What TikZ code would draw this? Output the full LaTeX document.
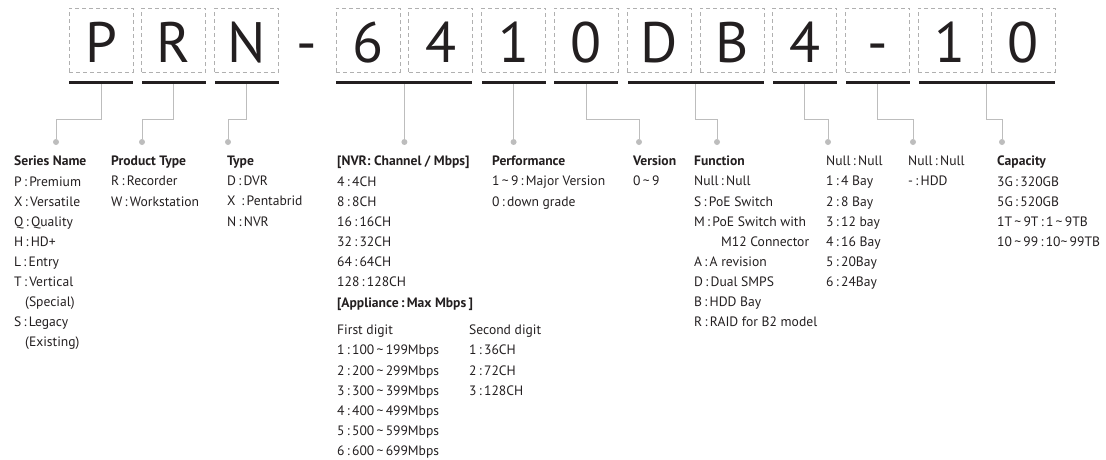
\documentclass[tikz,border=0pt]{standalone}
\usepackage{fontspec}
\setmainfont{PT Sans}
\usetikzlibrary{positioning,calc}
\definecolor{boxgray}{HTML}{B0B0B0}
\definecolor{linkgray}{HTML}{BDBDBD}
\definecolor{inkblack}{HTML}{231F20}
\newcommand{\tld}{\textasciitilde}

\begin{document}
\begin{tikzpicture}[
  x=1pt, y=-1pt,
  node distance=8pt,
  digit/.style={draw=boxgray, line width=0.8pt, dash pattern=on 4pt off 3pt,
                minimum width=64pt, text height=54pt, text depth=10pt, inner sep=0pt,
                font=\fontsize{57}{57}\selectfont, text=inkblack},
  bar/.style={fill=inkblack, minimum height=3pt, inner sep=0pt, anchor=north},
  dot/.style={circle, fill=linkgray, minimum size=6pt, inner sep=0pt},
  link/.style={draw=linkgray, line width=0.9pt},
  legend/.style={anchor=north west, align=left, inner sep=0pt,
                 font=\fontsize{13.6}{20.1}\selectfont, text=inkblack}
]
  \useasboundingbox (0,0) rectangle (1106,459);
  % code characters
  \node[digit] (P) at (101,40) {P};
  \node[digit, right=of P] (R) {R};
  \node[digit, right=of R] (N) {N};
  \node[digit, draw=none] (sep) at (307,40) {-};
  \node[digit] (six) at (368,40) {6};
  \node[digit, right=of six] (four) {4};
  \node[digit, right=of four] (one) {1};
  \node[digit, right=of one] (zero) {0};
  \node[digit, right=of zero] (D) {D};
  \node[digit, right=of D] (B) {B};
  \node[digit, right=of B] (bay) {4};
  \node[digit, right=of bay] (hyph) {-};
  \node[digit, right=of hyph] (ten) {1};
  \node[digit, right=of ten] (unit) {0};
  % underlines
  \node[bar, minimum width=64pt] (barP) at ($(P.south)+(0,8.5)$) {};
  \node[bar, minimum width=64pt] (barR) at ($(R.south)+(0,8.5)$) {};
  \node[bar, minimum width=64pt] (barN) at ($(N.south)+(0,8.5)$) {};
  \node[bar, minimum width=136pt] (barsix) at ($(six.south)!.5!(four.south)+(0,8.5)$) {};
  \node[bar, minimum width=64pt] (barone) at ($(one.south)+(0,8.5)$) {};
  \node[bar, minimum width=64pt] (barzero) at ($(zero.south)+(0,8.5)$) {};
  \node[bar, minimum width=136pt] (barDB) at ($(D.south)!.5!(B.south)+(0,8.5)$) {};
  \node[bar, minimum width=64pt] (barbay) at ($(bay.south)+(0,8.5)$) {};
  \node[bar, minimum width=64pt] (barhyph) at ($(hyph.south)+(0,8.5)$) {};
  \node[bar, minimum width=136pt] (barten) at ($(ten.south)!.5!(unit.south)+(0,8.5)$) {};
  % dots
  \node[dot] (dotP) at (56,142) {};
  \node[dot] (dotR) at (142,142) {};
  \node[dot] (dotN) at (228,142) {};
  \node[dot] (dotsix) at (barsix |- 0,142) {};
  \node[dot] (dotone) at (barone |- 0,142) {};
  \node[dot] (dotzero) at (639,142) {};
  \node[dot] (dotDB) at (717,142) {};
  \node[dot] (dotbay) at (828,142) {};
  \node[dot] (dothyph) at (913,142) {};
  \node[dot] (dotten) at (1002,142) {};
  % connectors
  \draw[link] (barP.south) -- (barP |- 0,119) -| (dotP);
  \draw[link] (barR.south) -- (barR |- 0,119) -| (dotR);
  \draw[link] (barN.south) -- (barN |- 0,119) -| (dotN);
  \draw[link] (barsix.south) -- (dotsix);
  \draw[link] (barone.south) -- (dotone);
  \draw[link] (barzero.south) -- (barzero |- 0,119) -| (dotzero);
  \draw[link] (barDB.south) -- (barDB |- 0,119) -| (dotDB);
  \draw[link] (barbay.south) -- (barbay |- 0,119) -| (dotbay);
  \draw[link] (barhyph.south) -- (barhyph |- 0,119) -| (dothyph);
  \draw[link] (barten.south) -- (barten |- 0,119) -| (dotten);
  % legends
  \node[legend] (series) at (14,156) {\textbf{Series Name}\\P\,:\,Premium\\X\,:\,Versatile\\Q\,:\,Quality\\H\,:\,HD+\\L\,:\,Entry\\T\,:\,Vertical\\\hspace*{11pt}(Special)\\S\,:\,Legacy\\\hspace*{11pt}(Existing)};
  \node[legend] (product) at (111,156) {\textbf{Product Type}\\R\,:\,Recorder\\W\,:\,Workstation};
  \node[legend] (type) at (227,156) {\textbf{Type}\\D\,:\,DVR\\X \,:\,Pentabrid\\N\,:\,NVR};
  \node[legend] (nvr) at (337,156) {\textbf{[NVR: Channel / Mbps]}\\4\,:\,4CH\\8\,:\,8CH\\16\,:\,16CH\\32\,:\,32CH\\64\,:\,64CH\\128\,:\,128CH};
  \node[legend] (appl) at (337,298) {\textbf{[Appliance\,:\,Max Mbps\,]}};
  \node[legend] (first) at (337,325) {First digit\\1\,:\,100\,\tld\,199Mbps\\2\,:\,200\,\tld\,299Mbps\\3\,:\,300\,\tld\,399Mbps\\4\,:\,400\,\tld\,499Mbps\\5\,:\,500\,\tld\,599Mbps\\6\,:\,600\,\tld\,699Mbps};
  \node[legend] (second) at (469,325) {Second digit\\1\,:\,36CH\\2\,:\,72CH\\3\,:\,128CH};
  \node[legend] (perf) at (492,156) {\textbf{Performance}\\1\,\tld\,9\,:\,Major Version\\0\,:\,down grade};
  \node[legend] (version) at (633,156) {\textbf{Version}\\0\,\tld\,9};
  \node[legend] (function) at (694,156) {\textbf{Function}\\Null\,:\,Null\\S\,:\,PoE Switch\\M\,:\,PoE Switch with\\\hspace*{27pt}M12 Connector\\A\,:\,A revision\\D\,:\,Dual SMPS\\B\,:\,HDD Bay\\R\,:\,RAID for B2 model};
  \node[legend] (bays) at (826,156) {Null\,:\,Null\\1\,:\,4 Bay\\2\,:\,8 Bay\\3\,:\,12 bay\\4\,:\,16 Bay\\5\,:\,20Bay\\6\,:\,24Bay};
  \node[legend] (hdd) at (908,156) {Null\,:\,Null\\-\,:\,HDD};
  \node[legend] (capacity) at (997,156) {\textbf{Capacity}\\3G\,:\,320GB\\5G\,:\,520GB\\1T\,\tld\,9T\,:\,1\,\tld\,9TB\\10\,\tld\,99\,:\,10\tld\,99TB};
\end{tikzpicture}
\end{document}
